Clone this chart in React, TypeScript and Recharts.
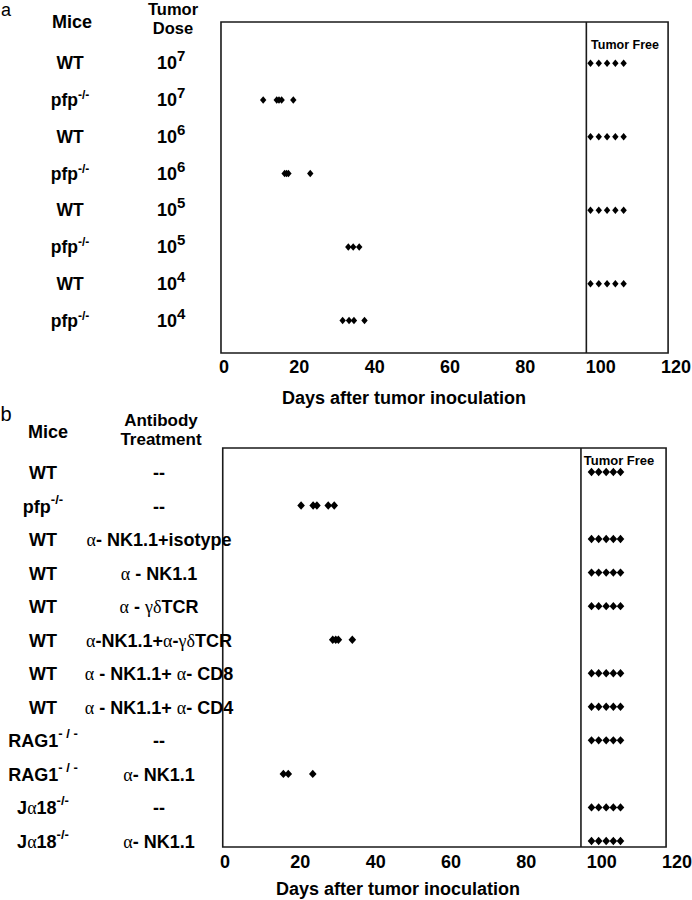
import React from 'react';
import { ScatterChart, Scatter, XAxis, YAxis, ReferenceArea, ReferenceLine } from 'recharts';

const FONT = '"Liberation Sans", Arial, Helvetica, sans-serif';
const SERIF = '"Liberation Serif", "DejaVu Serif", serif';

// ---------- Panel a data ----------
const aMice = ['WT', 'pfp', 'WT', 'pfp', 'WT', 'pfp', 'WT', 'pfp'];
const aMiceSup = ['', '-/-', '', '-/-', '', '-/-', '', '-/-'];
const aDoseExp = ['7', '7', '6', '6', '5', '5', '4', '4'];
const aDays: number[][] = [
  [97.3, 99.5, 101.7, 103.9, 106.1],
  [10.4, 14.0, 14.6, 15.3, 18.4],
  [97.3, 99.5, 101.7, 103.9, 106.1],
  [16.1, 16.6, 17.1, 22.9],
  [97.3, 99.5, 101.7, 103.9, 106.1],
  [33.0, 34.3, 35.9],
  [97.3, 99.5, 101.7, 103.9, 106.1],
  [31.5, 33.2, 34.5, 37.3],
];
const aTumorFreeDivider = 96.2;
const aBoxRight = 117.9;

// ---------- Panel b data ----------
const bMice = ['WT', 'pfp', 'WT', 'WT', 'WT', 'WT', 'WT', 'WT', 'RAG1', 'RAG1', 'Jα18', 'Jα18'];
const bMiceSup = ['', '-/-', '', '', '', '', '', '', '- / -', '- / -', '-/-', '-/-'];
const bTreatment = [
  '--',
  '--',
  'α- NK1.1+isotype',
  'α - NK1.1',
  'α - γδTCR',
  'α-NK1.1+α-γδTCR',
  'α - NK1.1+ α- CD8',
  'α - NK1.1+ α- CD4',
  '--',
  'α- NK1.1',
  '--',
  'α- NK1.1',
];
const bDays: number[][] = [
  [97.3, 99.2, 101.2, 103.1, 105.0],
  [20.2, 23.4, 24.4, 27.4, 29.0],
  [97.3, 99.2, 101.2, 103.1, 105.0],
  [97.3, 99.2, 101.2, 103.1, 105.0],
  [97.3, 99.2, 101.2, 103.1, 105.0],
  [28.6, 29.4, 30.1, 33.8],
  [97.3, 99.2, 101.2, 103.1, 105.0],
  [97.3, 99.2, 101.2, 103.1, 105.0],
  [97.3, 99.2, 101.2, 103.1, 105.0],
  [15.5, 16.8, 23.3],
  [97.3, 99.2, 101.2, 103.1, 105.0],
  [97.3, 99.2, 101.2, 103.1, 105.0],
];
const bTumorFreeDivider = 94.5;
const bBoxRight = 117.1;

const xTicks = [0, 20, 40, 60, 80, 100, 120];
const xTitle = 'Days after tumor inoculation';

const aPoints = aDays.flatMap((days, row) => days.map((d) => ({ x: d, y: row })));
const bPoints = bDays.flatMap((days, row) => days.map((d) => ({ x: d, y: row })));
const aRows = aMice.map((_, i) => i);
const bRows = bMice.map((_, i) => i);

const makeDiamond = (hw: number, hh: number) => (props: any) => {
  const { cx, cy } = props;
  if (cx == null || cy == null) return <g />;
  return (
    <path
      d={`M${cx},${cy - hh}L${cx + hw},${cy}L${cx},${cy + hh}L${cx - hw},${cy}Z`}
      fill="#000"
    />
  );
};

const mixed = (s: string) =>
  s
    .split(/([αγδ])/)
    .filter((seg) => seg.length > 0)
    .map((seg, k) =>
      /[αγδ]/.test(seg) ? (
        <tspan key={k} fontFamily={SERIF} fontWeight="normal">
          {seg}
        </tspan>
      ) : (
        <tspan key={k}>{seg}</tspan>
      )
    );

const ATick = (props: any) => {
  const { y, payload } = props;
  const i = payload.value as number;
  return (
    <g>
      <text x={70} y={y + 6} textAnchor="middle" fontFamily={FONT} fontWeight="bold" fontSize={17.5} fill="#000">
        {aMice[i]}
        {aMiceSup[i] ? (
          <tspan fontSize={12} dy={-7}>
            {aMiceSup[i]}
          </tspan>
        ) : null}
      </text>
      <text x={157} y={y + 6} textAnchor="start" fontFamily={FONT} fontWeight="bold" fontSize={18} fill="#000">
        10
        <tspan fontSize={15} dy={-8}>
          {aDoseExp[i]}
        </tspan>
      </text>
    </g>
  );
};

const BTick = (props: any) => {
  const { y, payload } = props;
  const i = payload.value as number;
  return (
    <g>
      <text x={43} y={y + 7} textAnchor="middle" fontFamily={FONT} fontWeight="bold" fontSize={18} fill="#000">
        {mixed(bMice[i])}
        {bMiceSup[i] ? (
          <tspan fontSize={13} dy={-9}>
            {bMiceSup[i]}
          </tspan>
        ) : null}
      </text>
      <text x={159} y={y + 7} textAnchor="middle" fontFamily={FONT} fontWeight="bold" fontSize={18} fill="#000">
        {mixed(bTreatment[i])}
      </text>
    </g>
  );
};

// y = vertical centre of the first line; lh = line height
const Txt = ({ x, y, size = 18, lh, weight = 'bold', children }: any) => {
  const L = lh ?? size;
  return (
    <div
      style={{
        position: 'absolute',
        left: x,
        top: y - L * 0.5,
        transform: 'translateX(-50%)',
        fontFamily: FONT,
        fontSize: size,
        fontWeight: weight,
        lineHeight: `${L}px`,
        whiteSpace: 'nowrap',
        textAlign: 'center',
        color: '#000',
      }}
    >
      {children}
    </div>
  );
};

const tickStyle = { fontSize: 18, fontWeight: 'bold', fill: '#000', fontFamily: FONT };
const LINE = '#1a1a1a';

export default function App() {
  return (
    <div style={{ position: 'absolute', left: 0, top: 0, width: 692, height: 900, background: '#fff' }}>
      {/* Panel a */}
      <div style={{ position: 'absolute', left: 0, top: 0 }}>
        <ScatterChart width={692} height={410} margin={{ top: 22, right: 16, bottom: 0, left: 0 }}>
          <XAxis
            type="number"
            dataKey="x"
            domain={[0, 120]}
            ticks={xTicks}
            interval={0}
            axisLine={false}
            tickLine={false}
            tickSize={0}
            tickMargin={7}
            height={57}
            tick={tickStyle}
          />
          <YAxis
            type="number"
            dataKey="y"
            domain={[-1.124, 7.883]}
            reversed
            allowDataOverflow
            ticks={aRows}
            interval={0}
            axisLine={false}
            tickLine={false}
            width={224}
            tick={<ATick />}
          />
          <ReferenceArea
            x1={-0.8}
            x2={aBoxRight}
            y1={-1.124}
            y2={7.883}
            ifOverflow="visible"
            fill="none"
            fillOpacity={0}
            stroke={LINE}
            strokeWidth={1.6}
          />
          <ReferenceLine x={aTumorFreeDivider} stroke={LINE} strokeWidth={1.6} />
          <Scatter data={aPoints} shape={makeDiamond(3.2, 3.8)} isAnimationActive={false} />
        </ScatterChart>
      </div>

      {/* Panel b */}
      <div style={{ position: 'absolute', left: 0, top: 410 }}>
        <ScatterChart width={692} height={490} margin={{ top: 38, right: 15, bottom: 0, left: 0 }}>
          <XAxis
            type="number"
            dataKey="x"
            domain={[0, 120]}
            ticks={xTicks}
            interval={0}
            axisLine={false}
            tickLine={false}
            tickSize={0}
            tickMargin={8}
            height={53}
            tick={tickStyle}
          />
          <YAxis
            type="number"
            dataKey="y"
            domain={[-0.715, 11.18]}
            reversed
            allowDataOverflow
            ticks={bRows}
            interval={0}
            axisLine={false}
            tickLine={false}
            width={225}
            tick={<BTick />}
          />
          <ReferenceArea
            x1={-0.6}
            x2={bBoxRight}
            y1={-0.715}
            y2={11.18}
            ifOverflow="visible"
            fill="none"
            fillOpacity={0}
            stroke={LINE}
            strokeWidth={1.6}
          />
          <ReferenceLine x={bTumorFreeDivider} stroke={LINE} strokeWidth={1.6} />
          <Scatter data={bPoints} shape={makeDiamond(3.8, 4.2)} isAnimationActive={false} />
        </ScatterChart>
      </div>

      {/* Panel a texts */}
      <Txt x={6} y={10} size={18} lh={20} weight="normal">a</Txt>
      <Txt x={72} y={22}>Mice</Txt>
      <Txt x={173} y={9.25} size={16.5} lh={18.5}>
        Tumor
        <br />
        Dose
      </Txt>
      <Txt x={625} y={45} size={12.5}>Tumor Free</Txt>
      <Txt x={404} y={398}>{xTitle}</Txt>

      {/* Panel b texts */}
      <Txt x={6} y={414} size={20} lh={22} weight="normal">b</Txt>
      <Txt x={48} y={432}>Mice</Txt>
      <Txt x={161} y={420} size={17} lh={19}>
        Antibody
        <br />
        Treatment
      </Txt>
      <Txt x={619} y={460} size={13}>Tumor Free</Txt>
      <Txt x={398} y={889}>{xTitle}</Txt>
    </div>
  );
}
